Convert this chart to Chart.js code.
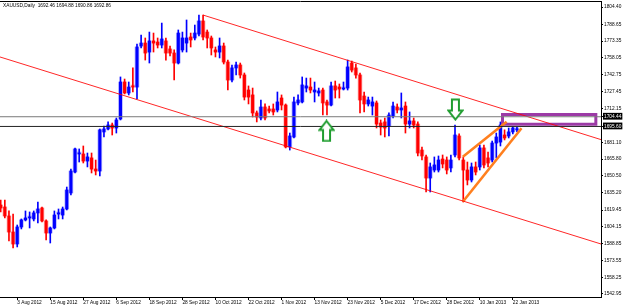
<!DOCTYPE html>
<html>
<head>
<meta charset="utf-8">
<script src="https://cdn.jsdelivr.net/npm/chart.js@4.4.1/dist/chart.umd.min.js"></script>
<style>
  html, body { margin: 0; padding: 0; background: #fff; }
  #wrap { width: 625px; height: 307px; }
</style>
</head>
<body>
<div id="wrap"><canvas id="chart" width="625" height="307"></canvas></div>
<script>
// XAUUSD daily candles, 30 Jul 2012 .. 23 Jan 2013 (bar index = trading day)
const opens = [1624.0,1622.2,1614.0,1599.4,1588.5,1604.0,1610.4,1612.2,1611.3,1616.8,
  1621.3,1609.5,1598.5,1603.1,1615.8,1614.9,1620.4,1635.0,1654.1,1670.5,
  1670.5,1664.1,1666.9,1656.8,1655.0,1690.6,1693.3,1696.9,1694.2,1702.4,
  1736.1,1726.1,1732.5,1731.5,1768.9,1771.6,1763.4,1773.5,1772.5,1769.8,
  1773.5,1766.2,1762.5,1753.4,1765.3,1771.6,1777.1,1776.2,1779.8,1791.7,
  1781.6,1776.2,1765.3,1763.4,1768.9,1754.3,1737.9,1748.9,1751.6,1742.5,
  1728.8,1724.3,1707.9,1703.3,1713.3,1711.5,1711.5,1710.6,1721.5,1715.1,
  1676.9,1686.0,1717.0,1717.9,1730.6,1731.5,1727.0,1726.1,1728.8,1717.9,
  1715.1,1732.5,1731.5,1729.7,1730.6,1753.4,1748.9,1742.5,1723.3,1716.1,
  1714.2,1717.0,1698.7,1699.7,1696.0,1705.1,1713.3,1710.6,1714.2,1697.8,
  1700.6,1697.8,1674.1,1667.8,1648.6,1655.9,1655.9,1665.9,1665.0,1657.8,
  1669.6,1686.9,1665.0,1655.9,1646.8,1658.7,1658.7,1676.0,1666.9,1665.0,
  1680.5,1681.4,1687.8,1686.9,1690.6,1692.46];
const highs = [1628.6,1628.6,1618.6,1615.8,1605.8,1611.3,1618.6,1617.7,1618.6,1626.8,
  1622.2,1610.4,1604.0,1618.6,1620.4,1622.2,1640.4,1656.8,1676.0,1675.1,
  1677.8,1671.4,1671.4,1665.0,1693.3,1696.0,1699.7,1698.7,1703.3,1740.7,
  1738.8,1736.1,1748.9,1770.7,1778.9,1776.2,1781.6,1780.7,1776.2,1789.8,
  1776.2,1768.9,1765.3,1783.5,1781.6,1792.6,1780.7,1788.0,1797.1,1797.1,
  1783.5,1778.0,1768.0,1776.2,1771.6,1756.1,1751.6,1754.3,1753.4,1744.3,
  1732.5,1730.6,1709.7,1719.7,1716.1,1714.2,1716.1,1727.0,1724.3,1716.1,
  1689.6,1722.4,1724.3,1740.7,1739.7,1739.7,1736.1,1730.6,1730.6,1719.7,
  1736.1,1737.0,1734.3,1736.1,1756.1,1755.2,1752.5,1744.3,1727.0,1722.4,
  1722.4,1718.8,1701.5,1703.3,1707.9,1717.9,1716.1,1726.1,1717.9,1708.8,
  1703.3,1699.7,1676.9,1669.6,1662.3,1667.8,1668.7,1669.6,1667.8,1669.6,
  1696.9,1688.8,1667.8,1663.2,1662.3,1663.2,1678.7,1678.7,1672.3,1682.3,
  1689.6,1699.7,1692.5,1694.2,1695.1,1694.88];
const lows = [1617.7,1612.2,1591.2,1584.9,1585.8,1602.2,1609.5,1603.1,1609.5,1607.6,
  1608.6,1592.2,1589.4,1602.2,1611.3,1611.3,1619.5,1633.2,1653.2,1663.2,
  1662.3,1658.7,1653.2,1651.4,1650.5,1686.0,1692.5,1687.8,1689.6,1701.5,
  1725.2,1724.3,1727.0,1720.6,1767.1,1756.1,1753.4,1763.4,1767.1,1767.1,
  1756.1,1759.8,1737.9,1752.5,1763.4,1763.4,1768.0,1774.4,1778.0,1774.4,
  1767.1,1760.7,1758.9,1758.0,1752.5,1728.8,1736.1,1742.5,1739.7,1719.7,
  1716.1,1704.2,1699.7,1701.5,1701.5,1707.9,1706.0,1708.8,1710.6,1676.0,
  1674.1,1685.1,1715.1,1717.0,1727.0,1726.1,1717.9,1723.3,1706.0,1706.0,
  1714.2,1721.5,1721.5,1728.8,1728.8,1745.2,1739.7,1707.9,1708.8,1714.2,
  1706.0,1694.2,1687.8,1686.0,1686.9,1703.3,1707.9,1703.3,1689.6,1694.2,
  1694.2,1668.7,1665.0,1635.9,1635.9,1654.1,1654.1,1657.8,1652.3,1654.1,
  1667.8,1665.0,1626.8,1642.3,1645.0,1651.4,1655.9,1657.8,1658.7,1663.2,
  1666.9,1677.8,1683.3,1685.1,1688.8,1690.86];
const closes = [1621.3,1614.0,1599.4,1588.5,1604.0,1610.4,1612.2,1613.1,1616.8,1620.4,
  1609.5,1598.5,1603.1,1614.9,1616.8,1620.4,1637.7,1655.0,1675.1,1671.4,
  1664.1,1667.8,1656.8,1655.0,1692.5,1693.3,1696.9,1694.2,1701.5,1736.1,
  1726.1,1731.5,1731.5,1768.0,1771.6,1762.5,1773.5,1771.6,1769.8,1775.3,
  1762.5,1762.5,1753.4,1780.7,1776.2,1776.2,1774.4,1780.7,1791.7,1777.1,
  1776.2,1767.1,1763.4,1768.9,1754.3,1737.9,1748.9,1751.6,1742.5,1722.4,
  1722.4,1707.9,1704.2,1713.3,1703.3,1709.7,1708.8,1717.9,1715.1,1676.9,
  1686.9,1717.9,1719.7,1733.4,1732.5,1728.8,1728.8,1727.9,1717.0,1715.1,
  1732.5,1728.8,1729.7,1730.6,1749.8,1747.0,1742.5,1719.7,1716.1,1719.7,
  1717.9,1697.8,1695.1,1694.2,1706.0,1714.2,1710.6,1712.4,1697.8,1700.6,
  1696.9,1671.4,1668.7,1648.6,1658.7,1660.5,1665.0,1661.4,1655.9,1665.0,
  1687.8,1666.9,1655.9,1646.8,1658.7,1654.1,1676.0,1660.5,1662.3,1680.5,
  1686.0,1696.9,1685.1,1690.6,1694.2,1692.86];

// x axis: bar index of each date label
const tickBars = [4, 12, 20, 28, 36, 44, 52, 60, 68, 76, 84, 92, 100, 108, 116, 124];
const tickDates = ['3 Aug 2012', '15 Aug 2012', '27 Aug 2012', '6 Sep 2012', '18 Sep 2012',
  '28 Sep 2012', '10 Oct 2012', '22 Oct 2012', '1 Nov 2012', '13 Nov 2012', '23 Nov 2012',
  '5 Dec 2012', '17 Dec 2012', '28 Dec 2012', '10 Jan 2013', '22 Jan 2013'];

// price axis labels
const priceTicks = [1804.40, 1788.65, 1773.35, 1758.05, 1742.75, 1727.45, 1712.15, 1704.44,
  1695.60, 1681.10, 1665.80, 1650.50, 1635.20, 1619.45, 1604.15, 1588.85, 1573.55, 1558.25, 1542.95];
const levels = [1704.44, 1695.60];

// drawn objects: [bar, price] pairs
const channelTop = [[49, 1797.1], [145.35, 1683.6]];
const channelBottom = [[-0.17, 1758.9], [145.35, 1588.5]];
const wedgeTop = [[111.9, 1668.0], [122.5, 1699.9]];
const wedgeBottom = [[111.9, 1627.0], [126.1, 1693.9]];
const zoneBars = [121.5, 144.1];
const zonePrices = [1697.6, 1706.5];
const arrowUp = [[78.9, 1691.5]];
const arrowDown = [[110.1, 1711.0]];

const header = 'XAUUSD,Daily  1692.46 1694.88 1690.86 1692.86';

const X_MIN = -0.17, X_MAX = 145.35;
const Y_MIN = 1540.2, Y_MAX = 1809.9;
const BLUE = '#0000ff', RED = '#ff0000';
const FONT = { family: '"Liberation Sans", Arial, sans-serif', size: 4.8 };

const idx = opens.map((_, i) => i);
const candleColors = idx.map(i => closes[i] >= opens[i] ? BLUE : RED);
const haloColors = idx.map(i => closes[i] >= opens[i] ? 'rgba(90,90,255,0.45)' : 'rgba(255,90,90,0.45)');
const pts = arr => arr.map(p => ({ x: p[0], y: p[1] }));

function arrowImage(up) {
    const c = document.createElement('canvas');
    c.width = 17; c.height = 23;
    const g = c.getContext('2d');
    const shape = [[8.5, 1.5], [15.5, 10.5], [12, 10.5], [12, 21.5], [5, 21.5], [5, 10.5], [1.5, 10.5]];
    g.beginPath();
    shape.forEach(([x, y], k) => {
        const yy = up ? y : 23 - y;
        if (k === 0) g.moveTo(x, yy); else g.lineTo(x, yy);
    });
    g.closePath();
    g.fillStyle = '#ffffff';
    g.fill();
    g.lineWidth = 2;
    g.strokeStyle = '#1f9d2f';
    g.stroke();
    return c;
}

const frame = {
    id: 'frame',
    afterDraw(chart) {
        const { ctx, chartArea } = chart;
        ctx.save();
        ctx.strokeStyle = '#000';
        ctx.lineWidth = 1;
        ctx.beginPath();
        ctx.moveTo(chartArea.left, chartArea.top + 0.5);
        ctx.lineTo(chartArea.right, chartArea.top + 0.5);
        ctx.stroke();
        ctx.font = `${FONT.size}px ${FONT.family}`;
        ctx.fillStyle = '#000';
        ctx.textBaseline = 'middle';
        ctx.fillText(header, 3, 6);
        ctx.restore();
    }
};

function line(data, color, width) {
    return {
        type: 'line', data: pts(data), borderColor: color, borderWidth: width,
        pointRadius: 0, fill: false, tension: 0, order: 1
    };
}

const zone = [[zoneBars[0], zonePrices[0]], [zoneBars[1], zonePrices[0]], [zoneBars[1], zonePrices[1]],
    [zoneBars[0], zonePrices[1]], [zoneBars[0], zonePrices[0]]];

new Chart(document.getElementById('chart'), {
    type: 'bar',
    data: {
        datasets: [
            {
                label: 'halo', data: idx.map(i => ({ x: i, y: [opens[i], closes[i]] })),
                backgroundColor: haloColors, barThickness: 4, minBarLength: 2, grouped: false, order: 4
            },
            {
                label: 'wick', data: idx.map(i => ({ x: i, y: [lows[i], highs[i]] })),
                backgroundColor: candleColors, barThickness: 1, grouped: false, order: 3
            },
            {
                label: 'body', data: idx.map(i => ({ x: i, y: [opens[i], closes[i]] })),
                backgroundColor: candleColors, barThickness: 2.4, minBarLength: 1, grouped: false, order: 2
            },
            line([[X_MIN, levels[0]], [X_MAX, levels[0]]], '#7a7a7a', 1),
            line([[X_MIN, levels[1]], [X_MAX, levels[1]]], '#222222', 1),
            line(channelTop, 'rgba(255,0,0,0.85)', 1),
            line(channelBottom, 'rgba(255,0,0,0.85)', 1),
            line(wedgeTop, '#ff7f1e', 2.6),
            line(wedgeBottom, '#ff7f1e', 2.6),
            line(zone, '#9c3aa6', 3),
            {
                type: 'line', data: pts(arrowUp), showLine: false, order: 0,
                pointStyle: arrowImage(true), pointRadius: 0.1
            },
            {
                type: 'line', data: pts(arrowDown), showLine: false, order: 0,
                pointStyle: arrowImage(false), pointRadius: 0.1
            }
        ]
    },
    options: {
        responsive: false,
        animation: false,
        events: [],
        layout: { autoPadding: false, padding: { top: 1, left: 0, right: 0, bottom: 0 } },
        plugins: { legend: { display: false }, tooltip: { enabled: false } },
        scales: {
            x: {
                type: 'linear', min: X_MIN, max: X_MAX, offset: false,
                grid: { display: true, drawOnChartArea: false, drawTicks: true, tickLength: 3, color: '#000', offset: false },
                border: { display: true, color: '#000' },
                ticks: {
                    autoSkip: false, maxRotation: 0, align: 'start', padding: 0, color: '#000', font: FONT,
                    callback: (value, index) => tickDates[index]
                },
                afterBuildTicks: scale => { scale.ticks = tickBars.map(value => ({ value })); },
                afterFit: scale => { scale.height = 10; scale.paddingLeft = 0; scale.paddingRight = 0; }
            },
            y: {
                type: 'linear', position: 'right', min: Y_MIN, max: Y_MAX, beginAtZero: false,
                grid: { display: true, drawOnChartArea: false, drawTicks: true, tickLength: 2, color: '#000' },
                border: { display: true, color: '#000' },
                ticks: {
                    autoSkip: false, padding: 1, font: FONT,
                    color: ctx => levels.includes(ctx.tick.value) ? '#fff' : '#000',
                    showLabelBackdrop: ctx => levels.includes(ctx.tick.value),
                    backdropColor: '#000',
                    backdropPadding: { top: 1, bottom: 0, left: 1, right: 1 },
                    callback: value => value.toFixed(2)
                },
                afterBuildTicks: scale => { scale.ticks = priceTicks.map(value => ({ value })); },
                afterFit: scale => { scale.width = 24; scale.paddingTop = 0; scale.paddingBottom = 0; }
            }
        }
    },
    plugins: [frame]
});
</script>
</body>
</html>
